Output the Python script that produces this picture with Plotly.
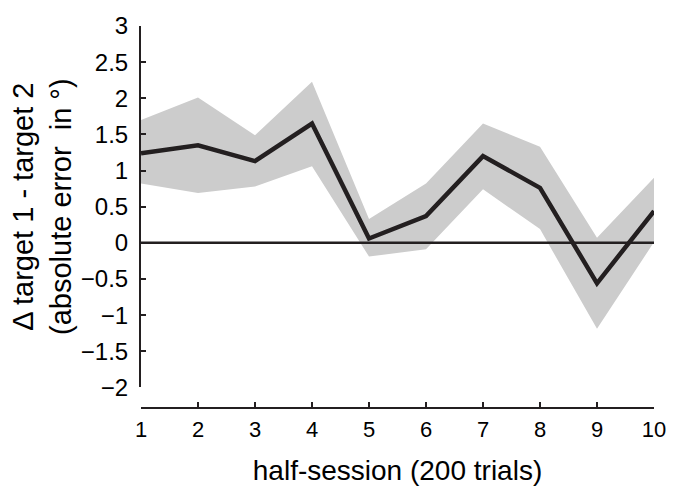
import plotly.graph_objects as go

# ---- data ----
sessions = [1, 2, 3, 4, 5, 6, 7, 8, 9, 10]
mean_diff = [1.24, 1.35, 1.13, 1.65, 0.06, 0.37, 1.20, 0.76, -0.56, 0.44]
upper_ci = [1.70, 2.01, 1.49, 2.23, 0.33, 0.82, 1.65, 1.33, 0.07, 0.90]
lower_ci = [0.82, 0.69, 0.78, 1.06, -0.19, -0.09, 0.74, 0.19, -1.19, 0.01]

x_tick_vals = sessions
x_tick_text = [str(s) for s in sessions]
y_tick_vals = [3, 2.5, 2, 1.5, 1, 0.5, 0, -0.5, -1, -1.5, -2]
y_tick_text = ["3", "2.5", "2", "1.5", "1", "0.5", "0", "\u22120.5", "\u22121", "\u22121.5", "\u22122"]

x_title = "half-session (200 trials)"
y_title = "\u0394 target 1 - target 2<br>(absolute error  in \u00b0)"

FONT = "Liberation Sans, Arial, Helvetica, sans-serif"
DARK = "#231f20"
GRAY = "#cccccc"

fig = go.Figure()

# shaded band
fig.add_trace(go.Scatter(
    x=sessions + sessions[::-1],
    y=upper_ci + lower_ci[::-1],
    fill="toself", fillcolor=GRAY,
    line=dict(width=0, color=GRAY),
    mode="lines", hoverinfo="skip", showlegend=False,
))

# zero reference line
fig.add_trace(go.Scatter(
    x=[sessions[0], sessions[-1]], y=[0, 0],
    mode="lines", line=dict(color=DARK, width=2.4),
    hoverinfo="skip", showlegend=False,
))

# mean line
fig.add_trace(go.Scatter(
    x=sessions, y=mean_diff,
    mode="lines", line=dict(color=DARK, width=4.5),
    showlegend=False,
))

fig.update_layout(
    width=678, height=492,
    margin=dict(l=141, r=18, t=22, b=80),
    paper_bgcolor="white", plot_bgcolor="white",
    font=dict(family=FONT, color="black"),
    xaxis=dict(
        range=[1, 10], anchor="free", position=0,
        tickmode="array", tickvals=x_tick_vals, ticktext=x_tick_text,
        ticks="inside", ticklen=5, tickwidth=2, tickcolor=DARK,
        showline=True, linecolor=DARK, linewidth=2,
        showgrid=False, zeroline=False,
        tickfont=dict(size=22, family=FONT, color="black"),
        ticklabelstandoff=2,
        title=dict(text=x_title, font=dict(size=28, family=FONT, color="black"), standoff=18),
    ),
    yaxis=dict(
        range=[-2, 3], domain=[0.054, 1],
        tickmode="array", tickvals=y_tick_vals, ticktext=y_tick_text,
        ticks="inside", ticklen=5, tickwidth=2, tickcolor=DARK,
        showline=True, linecolor=DARK, linewidth=2,
        showgrid=False, zeroline=False,
        tickfont=dict(size=24, family=FONT, color="black"),
        ticklabelstandoff=6,
        title=dict(text=y_title, font=dict(size=29, family=FONT, color="black"), standoff=1),
    ),
)

fig.write_html(
    "out.html",
    config={"displayModeBar": False},
    post_script="document.body.style.margin='0';document.body.style.overflow='hidden';",
)
